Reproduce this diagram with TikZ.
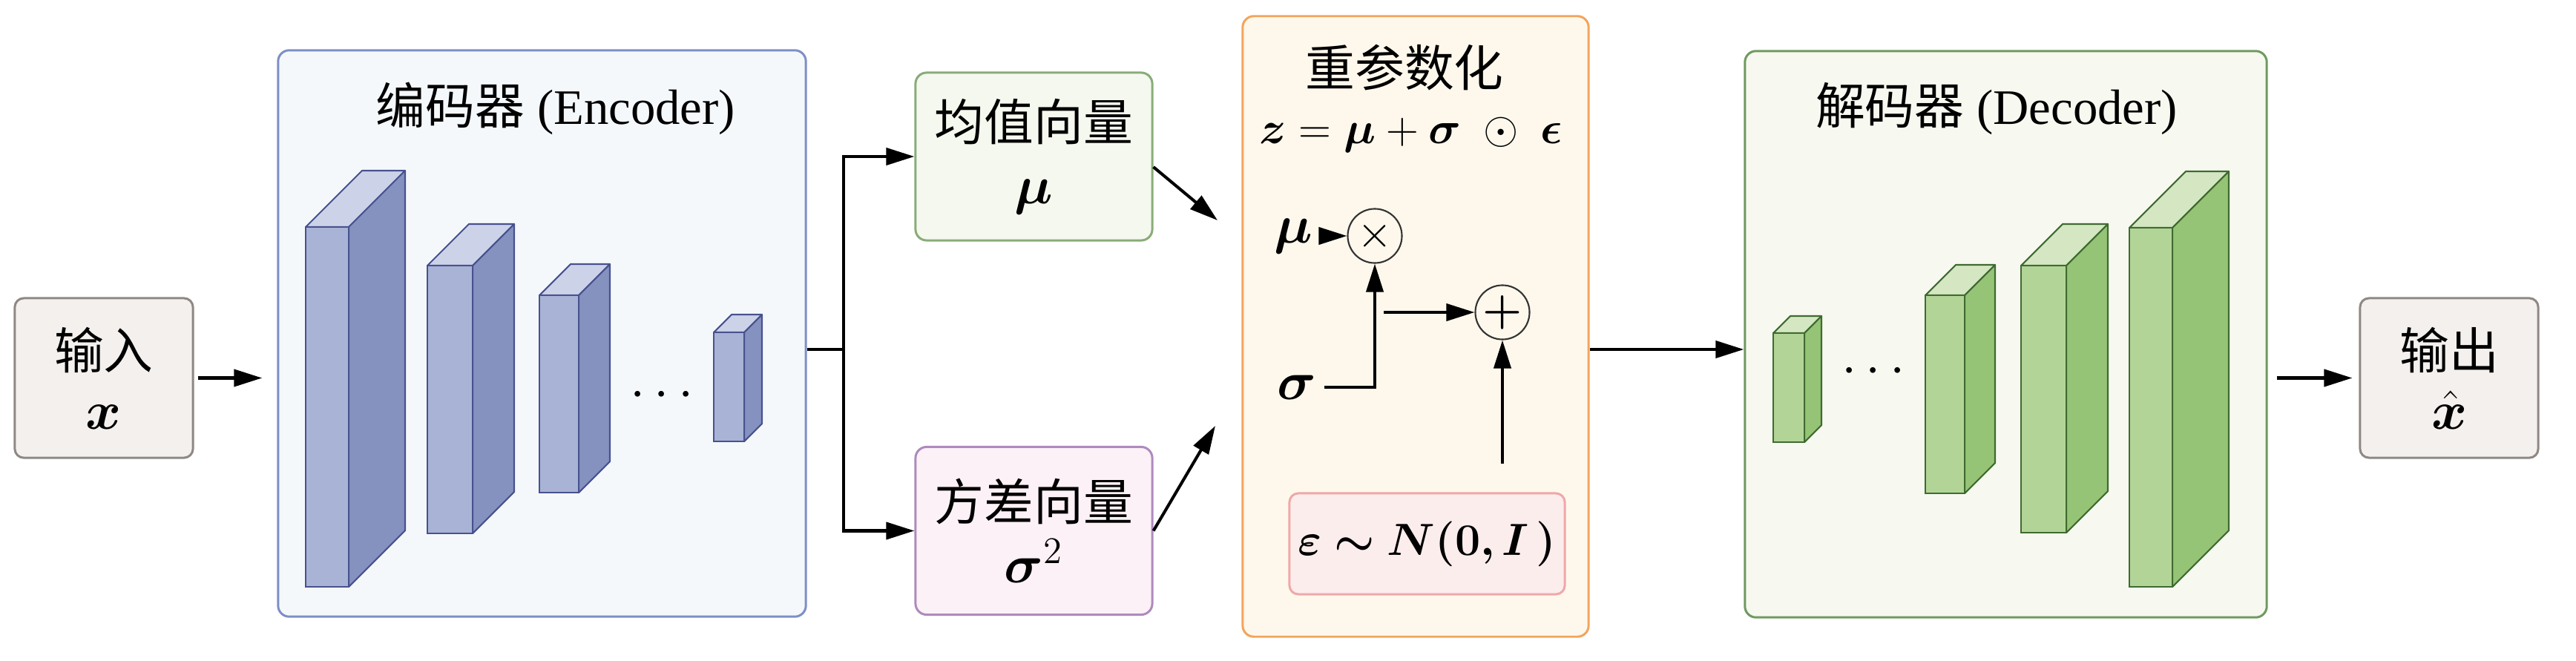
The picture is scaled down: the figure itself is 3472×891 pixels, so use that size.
\documentclass[tikz,border=0pt]{standalone}
\usepackage{fontspec}
\usepackage{bm}
\setmainfont{Liberation Serif}
\newfontfamily\cjk{Noto Sans CJK SC}
\usetikzlibrary{arrows.meta,positioning}

\definecolor{iobg}{HTML}{F3F0EE}
\definecolor{ioline}{HTML}{8F8884}
\definecolor{encbg}{HTML}{F5F8FB}
\definecolor{encline}{HTML}{7D8FC6}
\definecolor{encfront}{HTML}{A8B3D6}
\definecolor{encside}{HTML}{8592C0}
\definecolor{enctop}{HTML}{CCD3E8}
\definecolor{encedge}{HTML}{48528F}
\definecolor{meanbg}{HTML}{F5F8EE}
\definecolor{meanline}{HTML}{88AC78}
\definecolor{varbg}{HTML}{FCF1F6}
\definecolor{varline}{HTML}{AE8ABD}
\definecolor{repbg}{HTML}{FEF8EC}
\definecolor{repline}{HTML}{F2A55C}
\definecolor{noisebg}{HTML}{FCEDED}
\definecolor{noiseline}{HTML}{EFA8A8}
\definecolor{decbg}{HTML}{F7F8F0}
\definecolor{decline}{HTML}{6F9A60}
\definecolor{decfront}{HTML}{B2D597}
\definecolor{decside}{HTML}{96C476}
\definecolor{dectop}{HTML}{D4E7C2}
\definecolor{decedge}{HTML}{3F6B31}

\tikzset{
  label font/.style={font=\fontsize{19}{23}\selectfont},
  math font/.style={font=\fontsize{21}{24}\selectfont},
  iobox/.style={draw=ioline, fill=iobg, rounded corners=1.2mm, line width=0.85pt,
    minimum width=2.4cm, minimum height=2.15cm, align=center, label font},
  stagebox/.style={rounded corners=1.5mm, line width=0.85pt, minimum width=7.07cm, minimum height=7.63cm},
  vecbox/.style={rounded corners=1.5mm, line width=0.85pt,
    minimum width=3.19cm, minimum height=2.26cm, align=center, label font},
  opnode/.style={draw=black!80, circle, line width=0.6pt, minimum size=0.73cm, inner sep=0pt, label font},
  sym/.style={inner sep=1mm, math font},
  conn/.style={line width=1.15pt},
}

% symbol line inside a two-line box
\newcommand{\symline}[1]{{\fontsize{21}{23}\selectfont$#1$}}

% one layer: x, top y of front face, width, height, depth, colour prefix
\newcommand{\slab}[6]{%
  \filldraw[fill=#6top, draw=#6edge, line width=0.6pt, line join=round]
    (#1,#2) -- ++(#5,-#5) -- ++(#3,0) -- ++(-#5,#5) -- cycle;
  \filldraw[fill=#6side, draw=#6edge, line width=0.6pt, line join=round]
    (#1+#3,#2) -- ++(#5,-#5) -- ++(0,#4) -- ++(-#5,#5) -- cycle;
  \filldraw[fill=#6front, draw=#6edge, line width=0.6pt]
    (#1,#2) rectangle ++(#3,#4);
}

\begin{document}
\begin{tikzpicture}[x=0.01cm, y=-0.01cm, >={Triangle[length=3.8mm,width=2.3mm]}]
\useasboundingbox (0,0) rectangle (3472,891);

% input and output
\node[iobox] (in) at (140,509.5) {{\cjk 输入}\\\symline{\bm{x}}};
\node[iobox] (out) at (3301,509.5) {{\cjk 输出}\\\symline{\bm{\hat{x}}}};

% encoder
\node[stagebox, draw=encline, fill=encbg, minimum width=7.11cm] (enc) at (730.5,449.5) {};
\node[label font] (enctitle) at (749,146) {{\cjk 编码器} (Encoder)};
\slab{412}{306}{58}{485}{76}{enc}
\slab{576}{358}{61}{361}{56}{enc}
\slab{727}{398}{53}{266}{42}{enc}
\slab{962}{448}{41}{147}{24}{enc}
\node[font=\fontsize{22}{26}\selectfont, anchor=base] (encdots) at (892,549) {$\cdots$};

% mean and variance
\node[vecbox, draw=meanline, fill=meanbg] (mean) at (1393.5,211) {{\cjk 均值向量}\\[1pt]\symline{\bm{\mu}}};
\node[vecbox, draw=varline, fill=varbg] (var) at (1393.5,715.5) {{\cjk 方差向量}\\[1pt]\symline{\bm{\sigma}^2}};

% reparameterisation
\node[stagebox, draw=repline, fill=repbg, minimum width=4.66cm, minimum height=8.36cm] (rep) at (1908,440) {};
\node[label font] (reptitle) at (1893,91) {\cjk 重参数化};
\node[label font] (formula) at (1902,182) {$\bm{z}=\bm{\mu}+\bm{\sigma}\ \odot\ \bm{\epsilon}$};
\node[opnode] (mul) at (1853,318) {$\times$};
\node[opnode] (add) at (2025,421) {$\bm{+}$};
\node[sym] (mulab) at (1743,318) {$\bm{\mu}$};
\node[sym] (siglab) at (1748,522) {$\bm{\sigma}$};
\node[draw=noiseline, fill=noisebg, rounded corners=1.2mm, line width=0.85pt,
  minimum width=3.57cm, minimum height=1.36cm, label font] (noise) at (1923.5,733) {$\bm{\varepsilon\sim N(0,I\,)}$};
\coordinate (prodout) at (1865,421);
\coordinate (noiseout) at (2025,625);

% decoder
\node[stagebox, draw=decline, fill=decbg, minimum width=7.03cm] (dec) at (2703.5,450.5) {};
\node[label font] (dectitle) at (2691,147) {{\cjk 解码器} (Decoder)};
\slab{2390}{449}{42}{147}{23}{dec}
\slab{2595}{398}{53}{267}{41}{dec}
\slab{2724}{358}{61}{360}{56}{dec}
\slab{2870}{307}{58}{484}{76}{dec}
\node[font=\fontsize{22}{26}\selectfont, anchor=base] (decdots) at (2525,517) {$\cdots$};

% connectors
\coordinate (split) at (1137,471);
\coordinate (meanend) at (1641,297);
\coordinate (varend) at (1638,574);
\path[draw,conn,->,shorten >=2mm,shorten <=0.5mm] (in.east) -- (enc.west |- in);
\path[draw,conn] (enc.east |- split) -- (split);
\path[draw,conn,->] (split) |- (mean.west);
\path[draw,conn,->] (split) |- (var.west);
\path[draw,conn,->] (mean.-5) -- (meanend);
\path[draw,conn,->] (var.east) -- (varend);
\path[draw,conn,->] (mulab.east) -- (mul.west);
\path[draw,conn,->] (siglab.east) -| (mul.south);
\path[draw,conn,->] (prodout) -- (add.west);
\path[draw,conn,->] (noiseout) -- (add.south);
\path[draw,conn,->] (rep.east |- split) -- (dec.west |- split);
\path[draw,conn,->,shorten <=1.2mm,shorten >=0.9mm] (dec.east |- out) -- (out.west);
\end{tikzpicture}
\end{document}
